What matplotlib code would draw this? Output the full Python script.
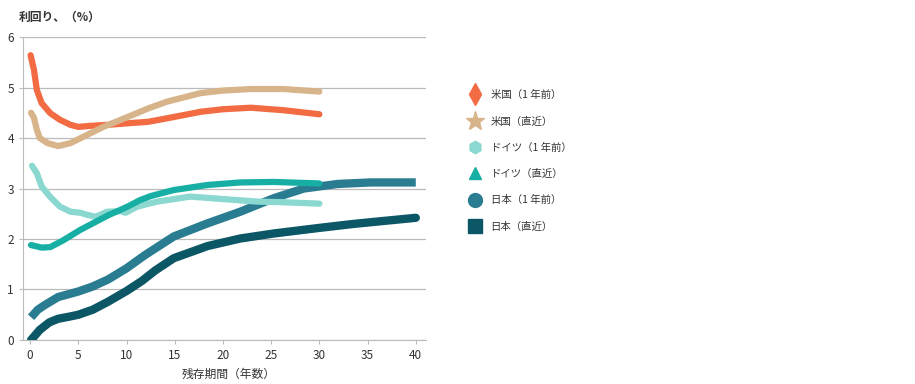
import matplotlib.pyplot as plt
from matplotlib.lines import Line2D

plt.rcParams['font.family'] = ['Noto Sans CJK JP', 'DejaVu Sans']

# 利回り曲線 (残存期間 年, 利回り %)
us_prev_x = [0.05, 0.4, 0.7, 1.2, 2.1, 3.1, 4.2, 5, 6.2, 8, 10.7, 12.2, 14.2, 17.7, 20, 22.9, 26.3, 30]
us_prev_y = [5.64, 5.35, 4.95, 4.69, 4.49, 4.36, 4.26, 4.22, 4.24, 4.26, 4.3, 4.32, 4.39, 4.52, 4.57, 4.6, 4.55, 4.47]

us_now_x = [0.1, 0.4, 0.7, 1, 1.8, 2.9, 4.2, 5.9, 7.6, 9.4, 12.3, 14.2, 17.7, 20, 22.9, 26.3, 30]
us_now_y = [4.5, 4.4, 4.16, 4.0, 3.9, 3.84, 3.9, 4.06, 4.22, 4.36, 4.59, 4.72, 4.89, 4.94, 4.97, 4.97, 4.92]

de_prev_x = [0.2, 0.7, 1.2, 2.1, 3.1, 4.2, 5.2, 5.9, 6.8, 8, 9.4, 9.9, 11.1, 12.3, 13.2, 16.6, 20.1, 23.6, 26, 30]
de_prev_y = [3.45, 3.3, 3.04, 2.83, 2.64, 2.54, 2.52, 2.48, 2.44, 2.54, 2.55, 2.52, 2.64, 2.7, 2.74, 2.84, 2.79, 2.74, 2.73, 2.7]

de_now_x = [0.1, 1.2, 2.1, 3.4, 5.2, 6.5, 8.1, 10.1, 11.4, 12.5, 14.9, 18.4, 21.8, 25.3, 30]
de_now_y = [1.88, 1.83, 1.84, 1.97, 2.18, 2.31, 2.47, 2.64, 2.77, 2.85, 2.97, 3.07, 3.12, 3.13, 3.1]

jp_prev_x = [0.1, 0.8, 1.5, 2.9, 5, 6.5, 8.1, 10, 11.9, 14.9, 18.4, 21.8, 25.3, 28.4, 31.9, 35.3, 40]
jp_prev_y = [0.45, 0.6, 0.69, 0.85, 0.96, 1.06, 1.2, 1.42, 1.68, 2.05, 2.31, 2.54, 2.81, 3.0, 3.09, 3.12, 3.12]

jp_now_x = [0.1, 1, 2, 2.9, 4, 5, 6.5, 8.1, 10, 11.6, 13, 14.9, 18.4, 21.8, 25.3, 30, 33.6, 40]
jp_now_y = [0.0, 0.2, 0.35, 0.42, 0.46, 0.5, 0.6, 0.76, 0.97, 1.17, 1.38, 1.62, 1.86, 2.01, 2.11, 2.22, 2.3, 2.42]

labels = ['米国（1 年前）', '米国（直近）', 'ドイツ（1 年前）', 'ドイツ（直近）', '日本（1 年前）', '日本（直近）']
colors = ['#F26B43', '#D8B48A', '#8AD8D0', '#17AFA3', '#2A7C91', '#0B5766']
markers = ['d', '*', 'h', '^', 'o', 's']
msizes = [11, 14, 9, 9, 10, 10]
widths = [4.5, 4.5, 4.5, 4.5, 6, 6]
caps = ['round', 'round', 'round', 'round', 'butt', 'round']

series = [(us_prev_x, us_prev_y), (us_now_x, us_now_y), (de_prev_x, de_prev_y),
          (de_now_x, de_now_y), (jp_prev_x, jp_prev_y), (jp_now_x, jp_now_y)]

fig = plt.figure(figsize=(9.15, 3.84), dpi=100)
ax = fig.add_axes([0.025, 0.1146, 0.4410, 0.789])

order = [4, 5, 2, 3, 0, 1]
for i in order:
    x, y = series[i]
    ax.plot(x, y, color=colors[i], lw=widths[i], solid_capstyle=caps[i],
            solid_joinstyle='round', zorder=3)

ax.set_xlim(-0.75, 41.1)
ax.set_ylim(0, 6)
ax.set_xticks(range(0, 41, 5))
ax.set_yticks(range(0, 7))
ax.grid(axis='y', color='#BBBBBB', lw=0.9)
ax.set_axisbelow(True)
for s in ['top', 'right']:
    ax.spines[s].set_visible(False)
for s in ['left', 'bottom']:
    ax.spines[s].set_color('#BBBBBB')
ax.tick_params(colors='#BBBBBB', labelcolor='#333333', labelsize=8.5, length=3)

fig.text(0.02, 0.955, '利回り、（%）', fontsize=8.5, color='#333333', fontweight='bold', va='center')
fig.text(0.25, 0.025, '残存期間（年数）', fontsize=8.5, color='#333333', ha='center', va='center')

handles = [Line2D([], [], ls='none', marker=markers[i], color=colors[i],
                  markersize=msizes[i]) for i in range(6)]
fig.legend(handles, labels, loc='upper left', bbox_to_anchor=(0.502, 0.79),
           frameon=False, fontsize=7.5, labelspacing=1.55, handletextpad=0.9,
           handlelength=1.2, labelcolor='#333333')

fig.savefig('out.png', dpi=100)
